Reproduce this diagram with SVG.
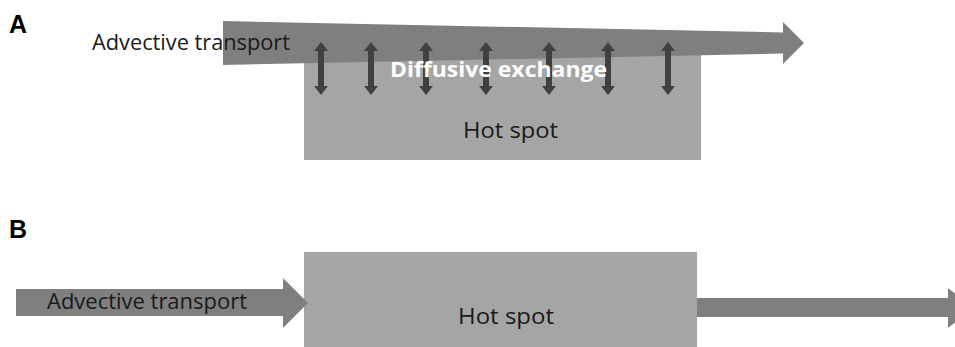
<svg xmlns="http://www.w3.org/2000/svg" width="955" height="347" viewBox="0 0 955 347">
<defs>
<style>
.lbl{font-family:"Liberation Sans",Arial,sans-serif;font-weight:bold;font-size:25px;fill:#000}
.t{font-family:"Open Sans","Liberation Sans",sans-serif;font-size:21px;fill:#1a1a1a}
.w{font-family:"Open Sans","Liberation Sans",sans-serif;font-weight:bold;font-size:21px;fill:#fff}
.hot{fill:#a5a5a5}
.adv{fill:#7f7f7f}
.dbl{fill:#404040}
</style>
<path id="darr" d="M0,0 L7,9 L3,9 L3,44 L7,44 L0,53 L-7,44 L-3,44 L-3,9 L-7,9 Z"/>
</defs>
<rect width="955" height="347" fill="#fff"/>
<text class="lbl" x="9" y="33">A</text>
<text class="lbl" x="9" y="238">B</text>

<g id="hotspotA"><rect class="hot" x="304" y="55" width="397" height="105"/>
<text class="t" x="463" y="138" textLength="95" lengthAdjust="spacingAndGlyphs">Hot spot</text></g>

<g id="advectiveA">
<path class="adv" d="M223,21 L783,32.5 L783,22 L804,43 L783,64 L783,53.5 L223,65 Z"/>
<text class="t" x="92" y="50" textLength="198" lengthAdjust="spacingAndGlyphs">Advective transport</text>
</g>

<g id="diffusive">
<g class="dbl">
<use href="#darr" x="321" y="42"/>
<use href="#darr" x="371" y="42"/>
<use href="#darr" x="426" y="42"/>
<use href="#darr" x="486" y="42"/>
<use href="#darr" x="549" y="42"/>
<use href="#darr" x="608" y="42"/>
<use href="#darr" x="668" y="42"/>
</g>
<text class="w" x="390" y="77" textLength="217" lengthAdjust="spacingAndGlyphs">Diffusive exchange</text>
</g>

<g id="hotspotB"><rect class="hot" x="304" y="252" width="393" height="100"/>
<text class="t" x="458" y="324" textLength="96" lengthAdjust="spacingAndGlyphs">Hot spot</text></g>

<g id="connectors">
<path class="adv" d="M16,289 L283,289 L283,278 L308,303 L283,328 L283,316 L16,316 Z"/>
<path class="adv" d="M697,298 L948,298 L948,288 L973,308 L948,328 L948,317 L697,317 Z"/>
</g>
<text class="t" x="47" y="309" textLength="200" lengthAdjust="spacingAndGlyphs">Advective transport</text>
</svg>
